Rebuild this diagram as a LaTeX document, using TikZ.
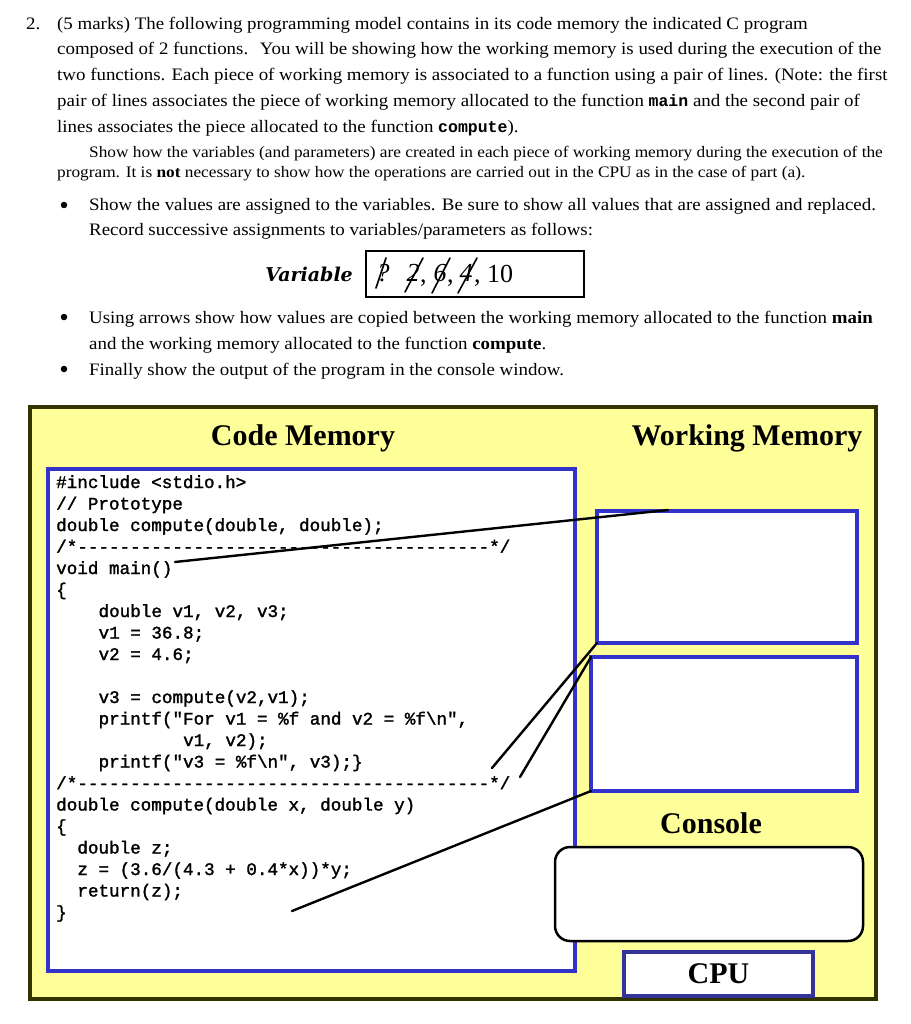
\documentclass[tikz,border=0pt]{standalone}
\usepackage{fontspec}
\setmainfont{Liberation Serif}
\setmonofont{Liberation Mono}
\newfontfamily\codefont{Liberation Mono}[FakeBold=1.6]
\newfontfamily\bodyfont{Liberation Serif}[FakeStretch=1.08]
\newfontfamily\varfont{DejaVu Serif}
\usetikzlibrary{calc}
\definecolor{memyellow}{HTML}{FFFF99}
\definecolor{frameolive}{HTML}{333300}
\definecolor{memblue}{HTML}{3333CC}
\definecolor{cpublue}{HTML}{333399}
\tikzset{
  txt/.style={anchor=base west, inner sep=0pt, font=\bodyfont\fontsize{17.5}{21}\selectfont},
  smalltxt/.style={anchor=base west, inner sep=0pt, font=\bodyfont\fontsize{16}{19}\selectfont},
  bul/.style={circle, fill=black, inner sep=0pt, minimum size=6.5pt},
  code/.style={anchor=base west, inner sep=0pt, font=\fontsize{17.6}{21}\selectfont\codefont},
  membox/.style={anchor=north west, inner sep=0pt, outer sep=0pt, draw=memblue, line width=3.5pt, fill=white},
  head/.style={inner sep=0pt, font=\fontsize{30}{34}\selectfont\bfseries},
  link/.style={line width=2.4pt, black, line cap=round},
  val/.style={inner sep=0pt, font=\fontsize{26}{30}\selectfont},
  strike/.style={line width=1.6pt, black, line cap=round},
}
\newcommand{\cc}[1]{{\ttfamily\bfseries\fontsize{16.5}{20}\selectfont #1}}
\begin{document}
\begin{tikzpicture}[x=1pt,y=-1pt]
\useasboundingbox (0,0) rectangle (910,1024);
\fill[white] (0,0) rectangle (910,1024);
% question text
\node[txt] (n2) at (26,30) {2.};
\node[txt] (t1) at (57,30) {(5 marks) The following programming model contains in its code memory the indicated C program};
\node[txt] (t2) at (57,55) {composed of 2 functions.\hspace{0.3em} You will be showing how the working memory is used during the execution of the};
\node[txt] (t3) at (57,81) {two functions. Each piece of working memory is associated to a function using a pair of lines. (Note: the first};
\node[txt] (t4) at (57,107) {pair of lines associates the piece of working memory allocated to the function \cc{main} and the second pair of};
\node[txt] (t5) at (57,133) {lines associates the piece allocated to the function \cc{compute}).};
\node[smalltxt] (s1) at (89,158) {Show how the variables (and parameters) are created in each piece of working memory during the execution of the};
\node[smalltxt] (s2) at (57,178) {program. It is \textbf{not} necessary to show how the operations are carried out in the CPU as in the case of part (a).};
\node[bul] (b1) at (64,205) {};
\node[txt] (u1) at (89,211) {Show the values are assigned to the variables. Be sure to show all values that are assigned and replaced.};
\node[txt] (u2) at (89,236) {Record successive assignments to variables/parameters as follows:};
\node[anchor=base east, inner sep=0pt, font=\fontsize{19}{22}\selectfont\varfont\bfseries\itshape] (varlbl) at (353,281) {Variable};
\node[anchor=north west, inner sep=0pt, outer sep=0pt, draw=black, line width=1.3pt, minimum width=218pt, minimum height=46pt] (varbox) at (366,251) {};
\node[val] (v0) at (383,273) {\itshape ?};
\node[val] (v1) at (413,273) {\itshape 2};
\node[val, anchor=base west] (k1) at (420,282) {,};
\node[val] (v2) at (440,273) {\itshape 6};
\node[val, anchor=base west] (k2) at (447,282) {,};
\node[val] (v3) at (466,273) {\itshape 4};
\node[val, anchor=base west] (k3) at (474,282) {, 10};
\draw[strike] ([shift={(-7,15)}]v0.center) -- ([shift={(3,-15)}]v0.center);
\draw[strike] ([shift={(-8,19)}]v1.center) -- ([shift={(10,-15)}]v1.center);
\draw[strike] ([shift={(-8,20)}]v2.center) -- ([shift={(10,-15)}]v2.center);
\draw[strike] ([shift={(-8,20)}]v3.center) -- ([shift={(11,-15)}]v3.center);
\node[bul] (b2) at (64,317) {};
\node[txt] (u3) at (89,323) {Using arrows show how values are copied between the working memory allocated to the function \textbf{main}};
\node[txt] (u4) at (89,349) {and the working memory allocated to the function \textbf{compute}.};
\node[bul] (b3) at (64,369) {};
\node[txt] (u5) at (89,375) {Finally show the output of the program in the console window.};
% model frame
\node[anchor=north west, inner sep=0pt, outer sep=0pt, draw=frameolive, fill=memyellow, line width=4pt, minimum width=846pt, minimum height=592pt] (frame) at (30,407) {};
\node[head] (hcode) at (303,438) {Code Memory};
\node[head] (hwork) at (747,438) {Working Memory};
\node[membox, minimum width=527pt, minimum height=502pt] (codebox) at (48,469) {};
\node[code] (c1) at (56,488) {\#include <stdio.h>};
\node[code] (c2) at (56,509.5) {// Prototype};
\node[code] (c3) at (56,531) {double compute(double, double);};
\node[code] (c4) at (56,552.5) {/*---------------------------------------*/};
\node[code] (c5) at (56,574) {void main()};
\node[code] (c6) at (56,595.5) {\{};
\node[code] (c7) at (98.4,617) {double v1, v2, v3;};
\node[code] (c8) at (98.4,638.5) {v1 = 36.8;};
\node[code] (c9) at (98.4,660) {v2 = 4.6;};
\node[code] (c10) at (98.4,703) {v3 = compute(v2,v1);};
\node[code] (c11) at (98.4,724.5) {printf("For v1 = \%f and v2 = \%f\textbackslash n",};
\node[code] (c12) at (183,746) {v1, v2);};
\node[code] (c13) at (98.4,767.5) {printf("v3 = \%f\textbackslash n", v3);\}};
\node[code] (c14) at (56,789) {/*---------------------------------------*/};
\node[code] (c15) at (56,810.5) {double compute(double x, double y)};
\node[code] (c16) at (56,832) {\{};
\node[code] (c17) at (77.2,853.5) {double z;};
\node[code] (c18) at (77.2,875) {z = (3.6/(4.3 + 0.4*x))*y;};
\node[code] (c19) at (77.2,896.5) {return(z);};
\node[code] (c20) at (56,918) {\}};
% working memory
\node[membox, minimum width=260pt, minimum height=132pt] (wm1) at (597,511) {};
\node[membox, minimum width=266pt, minimum height=134pt] (wm2) at (591,657) {};
\node[head] (hcons) at (711,823) {Console};
\node[anchor=north west, inner sep=0pt, outer sep=0pt, draw=black, fill=white, line width=2.5pt, rounded corners=15pt, minimum width=308pt, minimum height=94pt] (console) at (555,847) {};
\node[anchor=north west, inner sep=0pt, outer sep=0pt, draw=cpublue, fill=white, line width=3.5pt, minimum width=189pt, minimum height=44pt] (cpu) at (624,952) {};
\node[head] (cputxt) at (cpu.center) {CPU};
% association lines
\coordinate (m1) at (175,562);
\coordinate (m1r) at (668,510);
\coordinate (m2) at (492,768);
\coordinate (f1) at (520,777);
\coordinate (f2) at (292,911);
\draw[link] (m1) -- (m1r);
\draw[link] (wm1.south west) -- (m2);
\draw[link] (wm2.north west) -- (f1);
\draw[link] (wm2.south west) -- (f2);
\end{tikzpicture}
\end{document}
